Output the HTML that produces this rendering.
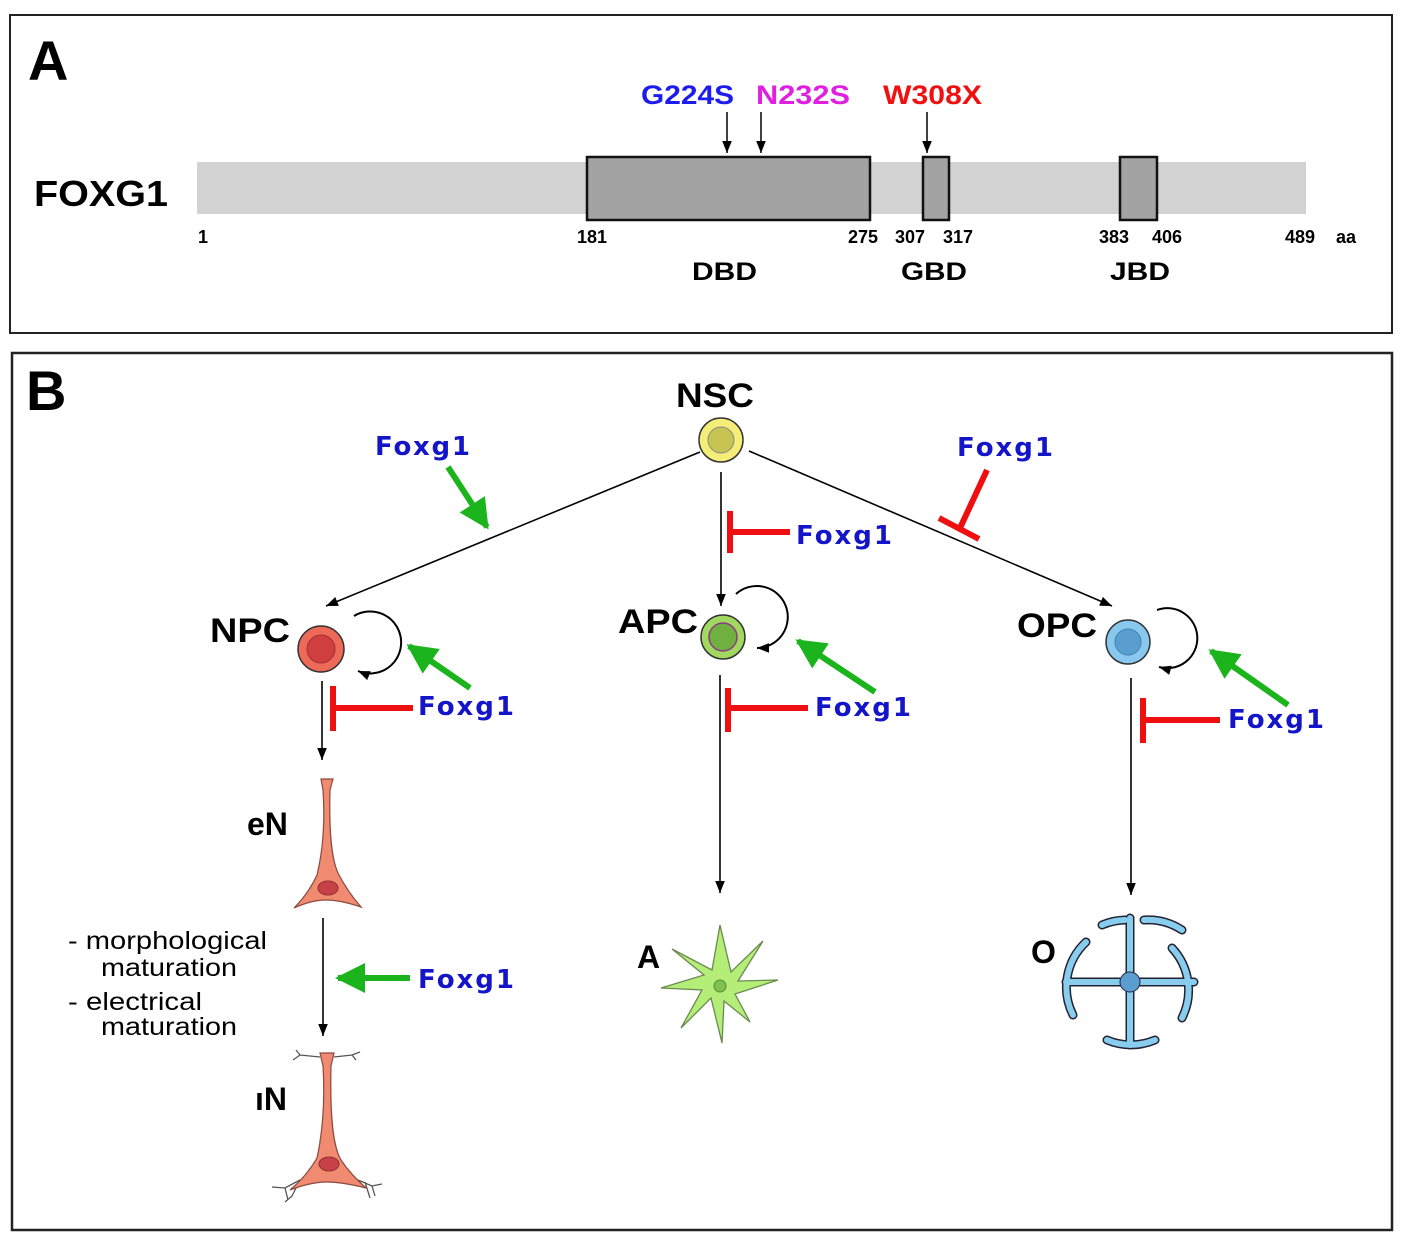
<!DOCTYPE html>
<html><head><meta charset="utf-8"><style>
html,body{margin:0;padding:0;background:#fff;}
svg{display:block;}
.f{font-family:"DejaVu Sans",sans-serif;font-weight:bold;fill:#1414c8;font-size:26px;}
.b{font-family:"Liberation Sans",sans-serif;font-weight:bold;fill:#000;}
.n{font-family:"Liberation Sans",sans-serif;font-weight:bold;font-size:18px;fill:#000;}
</style></head><body>
<svg width="1404" height="1242" viewBox="0 0 1404 1242" xmlns="http://www.w3.org/2000/svg">
<defs>
<marker id="ak" viewBox="0 0 10 10" refX="10" refY="5" markerWidth="12" markerHeight="12" markerUnits="userSpaceOnUse" orient="auto"><path d="M0,1 L10,5 L0,9 Z" fill="#000"/></marker>
<marker id="ag" viewBox="0 0 10 10" refX="9" refY="5" markerWidth="36" markerHeight="30" markerUnits="userSpaceOnUse" orient="auto"><path d="M0,0 L10,5 L0,10 Z" fill="#1cb41c"/></marker>
</defs>
<rect x="10" y="15" width="1382" height="318" fill="#fff" stroke="#222" stroke-width="2"/>
<rect x="12" y="353" width="1380" height="877" fill="#fff" stroke="#222" stroke-width="2.5"/>
<text x="28" y="80" class="b" font-size="56">A</text>
<text x="26" y="410" class="b" font-size="56">B</text>

<!-- Panel A -->
<text x="34" y="206" class="b" font-size="36" textLength="134" lengthAdjust="spacingAndGlyphs">FOXG1</text>
<rect x="197" y="162" width="1109" height="52" fill="#d2d2d2"/>
<rect x="587" y="157" width="283" height="63" fill="#a3a3a3" stroke="#111" stroke-width="2.5"/>
<rect x="923" y="157" width="26" height="63" fill="#a3a3a3" stroke="#111" stroke-width="2.5"/>
<rect x="1120" y="157" width="37" height="63" fill="#a3a3a3" stroke="#111" stroke-width="2.5"/>
<text x="641" y="104" class="b" font-size="27" style="fill:#1c1cf0" textLength="93" lengthAdjust="spacingAndGlyphs">G224S</text>
<text x="756" y="104" class="b" font-size="27" style="fill:#e020e0" textLength="94" lengthAdjust="spacingAndGlyphs">N232S</text>
<text x="883" y="104" class="b" font-size="27" style="fill:#f01010" textLength="99" lengthAdjust="spacingAndGlyphs">W308X</text>
<line x1="727" y1="112" x2="727" y2="153" stroke="#000" stroke-width="1.5" marker-end="url(#ak)"/>
<line x1="761" y1="112" x2="761" y2="153" stroke="#000" stroke-width="1.5" marker-end="url(#ak)"/>
<line x1="927" y1="112" x2="927" y2="153" stroke="#000" stroke-width="1.5" marker-end="url(#ak)"/>
<text x="198" y="243" class="n">1</text>
<text x="577" y="243" class="n">181</text>
<text x="848" y="243" class="n">275</text>
<text x="895" y="243" class="n">307</text>
<text x="943" y="243" class="n">317</text>
<text x="1099" y="243" class="n">383</text>
<text x="1152" y="243" class="n">406</text>
<text x="1285" y="243" class="n">489</text>
<text x="1336" y="243" class="n">aa</text>
<text x="692" y="280" class="b" font-size="25" textLength="65" lengthAdjust="spacingAndGlyphs">DBD</text>
<text x="901" y="280" class="b" font-size="25" textLength="66" lengthAdjust="spacingAndGlyphs">GBD</text>
<text x="1110" y="280" class="b" font-size="25" textLength="60" lengthAdjust="spacingAndGlyphs">JBD</text>

<!-- Panel B labels -->
<text x="676" y="407" class="b" font-size="34" textLength="78" lengthAdjust="spacingAndGlyphs">NSC</text>
<text x="210" y="642" class="b" font-size="34" textLength="80" lengthAdjust="spacingAndGlyphs">NPC</text>
<text x="618" y="633" class="b" font-size="34" textLength="80" lengthAdjust="spacingAndGlyphs">APC</text>
<text x="1017" y="637" class="b" font-size="34" textLength="80" lengthAdjust="spacingAndGlyphs">OPC</text>
<text x="247" y="835" class="b" font-size="32">eN</text>
<text x="255" y="1110" class="b" font-size="32">ıN</text>
<text x="637" y="968" class="b" font-size="32">A</text>
<text x="1031" y="963" class="b" font-size="32">O</text>
<g font-family="Liberation Sans,sans-serif" font-size="25" fill="#000">
<text x="68" y="949" textLength="199" lengthAdjust="spacingAndGlyphs">- morphological</text>
<text x="101" y="976" textLength="136" lengthAdjust="spacingAndGlyphs">maturation</text>
<text x="68" y="1010" textLength="134" lengthAdjust="spacingAndGlyphs">- electrical</text>
<text x="101" y="1035" textLength="136" lengthAdjust="spacingAndGlyphs">maturation</text>
</g>

<!-- black connectors -->
<g stroke="#000" stroke-width="1.6" fill="none">
<line x1="700" y1="452" x2="326" y2="606" marker-end="url(#ak)"/>
<line x1="721" y1="472" x2="721" y2="606" marker-end="url(#ak)"/>
<line x1="749" y1="451" x2="1112" y2="606" marker-end="url(#ak)"/>
<line x1="322" y1="681" x2="322" y2="760" marker-end="url(#ak)"/>
<line x1="720" y1="675" x2="720" y2="893" marker-end="url(#ak)"/>
<line x1="1131" y1="678" x2="1131" y2="895" marker-end="url(#ak)"/>
<line x1="323" y1="918" x2="323" y2="1036" marker-end="url(#ak)"/>
<path d="M354,616 A31,31 0 1 1 358,671" stroke-width="2" marker-end="url(#ak)"/>
<path d="M736,594 A31,31 0 1 1 757,648" stroke-width="2" marker-end="url(#ak)"/>
<path d="M1157,610 A30,30 0 1 1 1159,667" stroke-width="2" marker-end="url(#ak)"/>
</g>

<!-- cells -->
<circle cx="721" cy="440" r="22" fill="#f4ee78" stroke="#333" stroke-width="1.5"/>
<circle cx="721" cy="440" r="13" fill="#c8c452" stroke="#888" stroke-width="1"/>
<circle cx="321" cy="649" r="23" fill="#ee6a58" stroke="#333" stroke-width="1.5"/>
<circle cx="321" cy="649" r="14" fill="#d04040" stroke="#a03030" stroke-width="1"/>
<circle cx="723" cy="637" r="22" fill="#a0d860" stroke="#333" stroke-width="1.5"/>
<circle cx="723" cy="637" r="14" fill="#70b040" stroke="#8a3a8a" stroke-width="1.5"/>
<circle cx="1128" cy="642" r="22" fill="#88c8ee" stroke="#333" stroke-width="1.5"/>
<circle cx="1128" cy="642" r="13" fill="#5a9ed0" stroke="#4080b0" stroke-width="1"/>

<!-- green arrows -->
<g stroke="#1cb41c" stroke-width="6" fill="none">
<line x1="448" y1="467" x2="487" y2="527" marker-end="url(#ag)"/>
<line x1="470" y1="688" x2="409" y2="646" marker-end="url(#ag)"/>
<line x1="875" y1="692" x2="798" y2="641" marker-end="url(#ag)"/>
<line x1="1288" y1="705" x2="1211" y2="651" marker-end="url(#ag)"/>
<line x1="410" y1="978" x2="338" y2="978" marker-end="url(#ag)"/>
</g>
<!-- red inhibitions -->
<g stroke="#ee1010" stroke-width="6" fill="none">
<line x1="790" y1="532" x2="730" y2="532"/><line x1="730" y1="511" x2="730" y2="553"/>
<line x1="987" y1="470" x2="960" y2="528"/><line x1="939" y1="518" x2="979" y2="539"/>
<line x1="413" y1="708" x2="333" y2="708"/><line x1="333" y1="686" x2="333" y2="731"/>
<line x1="808" y1="708" x2="728" y2="708"/><line x1="728" y1="688" x2="728" y2="732"/>
<line x1="1220" y1="720" x2="1143" y2="720"/><line x1="1143" y1="698" x2="1143" y2="743"/>
</g>
<!-- Foxg1 labels -->
<g class="f">
<text x="375" y="455" class="f" textLength="95" lengthAdjust="spacing">Foxg1</text>
<text x="957" y="456" class="f" textLength="96" lengthAdjust="spacing">Foxg1</text>
<text x="796" y="544" class="f" textLength="96" lengthAdjust="spacing">Foxg1</text>
<text x="418" y="715" class="f" textLength="96" lengthAdjust="spacing">Foxg1</text>
<text x="815" y="716" class="f" textLength="96" lengthAdjust="spacing">Foxg1</text>
<text x="1228" y="728" class="f" textLength="96" lengthAdjust="spacing">Foxg1</text>
<text x="418" y="988" class="f" textLength="96" lengthAdjust="spacing">Foxg1</text>
</g>

<!-- eN -->
<path d="M321,779 L333,779 L330,790 C329,830 331,860 339,875 C347,890 354,899 361,907 C346,902 334,900 326,900 C315,900 305,903 294,908 C304,898 311,888 317,875 C323,850 325,820 323,790 Z" fill="#f08a70" stroke="#8a4a40" stroke-width="1.2"/>
<ellipse cx="328" cy="888" rx="10" ry="7" fill="#c84048" stroke="#903030"/>
<!-- iN -->
<g stroke="#555" stroke-width="1.3" fill="none">
<path d="M320,1057 L300,1055 L293,1060 M300,1055 L296,1050 M334,1057 L352,1055 L360,1052 M352,1055 L356,1060"/>
<path d="M300,1180 L285,1188 L272,1187 M285,1188 L288,1200 M300,1180 L292,1196 L285,1202"/>
<path d="M358,1180 L372,1186 L382,1184 M372,1186 L375,1196 M365,1182 L370,1198"/>
</g>
<path d="M320,1053 L334,1053 L331,1066 C330,1110 332,1145 341,1160 C349,1172 357,1180 366,1188 C350,1184 336,1182 327,1182 C315,1182 303,1185 290,1190 C302,1180 310,1170 317,1158 C323,1130 325,1100 323,1066 Z" fill="#f08a70" stroke="#8a4a40" stroke-width="1.2"/>
<ellipse cx="329" cy="1164" rx="10" ry="7" fill="#c84048" stroke="#903030"/>

<!-- Astrocyte -->
<polygon points="720,925 731,972 763,941 738,981 778,980 735,994 750,1022 724,1001 722,1043 711,998 681,1028 702,990 661,988 704,975 672,949 712,970" fill="#b4ee78" stroke="#6a8a50" stroke-width="1.3"/>
<circle cx="720" cy="986" r="6" fill="#80c050" stroke="#5a8a3a"/>

<!-- Oligodendrocyte -->
<g fill="none" stroke-linecap="round">
<g stroke="#223" stroke-width="9">
<line x1="1130" y1="918" x2="1130" y2="1045"/><line x1="1066" y1="982" x2="1194" y2="982"/>
<path d="M1086,942 A62,62 0 0 0 1073,1015"/><path d="M1144,920 A62,62 0 0 1 1182,930"/>
<path d="M1172,948 A62,62 0 0 1 1182,1018"/>
<path d="M1107,1040 A62,62 0 0 0 1155,1040"/><path d="M1102,925 A62,62 0 0 1 1125,920"/>
</g>
<g stroke="#88ccee" stroke-width="6">
<line x1="1130" y1="918" x2="1130" y2="1045"/><line x1="1066" y1="982" x2="1194" y2="982"/>
<path d="M1086,942 A62,62 0 0 0 1073,1015"/><path d="M1144,920 A62,62 0 0 1 1182,930"/>
<path d="M1172,948 A62,62 0 0 1 1182,1018"/>
<path d="M1107,1040 A62,62 0 0 0 1155,1040"/><path d="M1102,925 A62,62 0 0 1 1125,920"/>
</g>
</g>
<circle cx="1130" cy="982" r="10" fill="#5a9ed0" stroke="#224"/>
</svg>
</body></html>
